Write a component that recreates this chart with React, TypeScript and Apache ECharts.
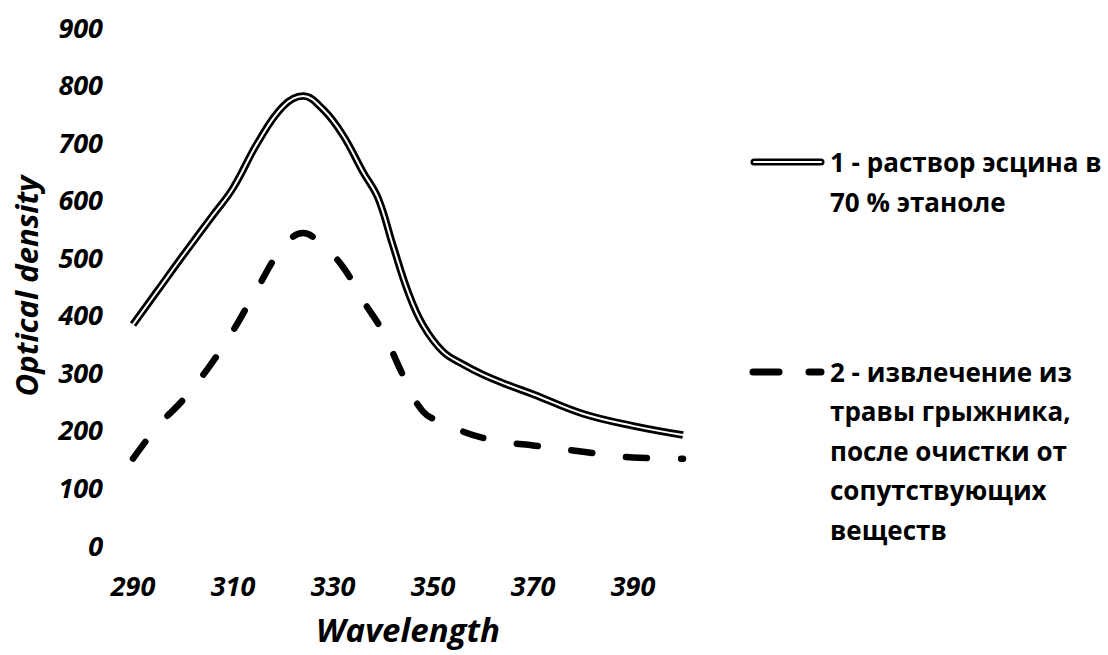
import React, { useEffect, useRef } from "react";
import * as echarts from "echarts";

// Series 1: раствор эсцина в 70 % этаноле
const wavelengths1 = [290, 295, 300, 306, 310, 315, 320, 324, 328, 332, 336, 339, 342, 345, 348, 352, 356, 360, 365, 370, 380, 390, 400];
const values1 = [383, 443, 503, 573, 620, 700, 762, 780, 757, 712, 648, 603, 520, 440, 382, 336, 314, 296, 278, 262, 228, 207, 191];

// Series 2: извлечение из травы грыжника
const wavelengths2 = [290, 295, 300, 305, 310, 315, 320, 324, 328, 332, 336, 340, 344, 348, 352, 356, 360, 365, 370, 380, 390, 400];
const values2 = [150, 207, 252, 307, 372, 448, 518, 542, 520, 483, 425, 370, 295, 232, 212, 197, 186, 178, 173, 162, 152, 150];

const xTickLabels = [290, 310, 330, 350, 370, 390];
const legendText1 = "1 - раствор эсцина в\n70 % этаноле";
const legendText2 = "2 - извлечение из\nтравы грыжника,\nпосле очистки от\nсопутствующих\nвеществ";
const xName = "Wavelength";
const yName = "Optical density";

const FONT = "'Open Sans', 'Noto Sans', sans-serif";

export default function App() {
  const ref = useRef<HTMLDivElement>(null);
  useEffect(() => {
    if (!ref.current) return;
    const chart = echarts.init(ref.current, null, { renderer: "svg" });
    const d1 = wavelengths1.map((w, i) => [w, values1[i]]);
    const d2 = wavelengths2.map((w, i) => [w, values2[i]]);
    chart.setOption({
      animation: false,
      backgroundColor: "#ffffff",
      grid: { left: 133, top: 27, width: 550, height: 518 },
      xAxis: {
        type: "value",
        min: 290,
        max: 400,
        interval: 10,
        axisLine: { show: false },
        axisTick: { show: false },
        splitLine: { show: false },
        axisLabel: {
          margin: 27,
          color: "#000",
          fontFamily: FONT,
          fontSize: 27,
          fontWeight: "bold",
          fontStyle: "italic",
          formatter: (v: number) => (xTickLabels.includes(v) ? String(v) : ""),
        },
        name: xName,
        nameLocation: "middle",
        nameGap: 68,
        nameTextStyle: {
          color: "#000",
          fontFamily: FONT,
          fontSize: 33,
          fontWeight: "bold",
          fontStyle: "italic",
        },
      },
      yAxis: {
        type: "value",
        min: 0,
        max: 900,
        interval: 100,
        axisLine: { show: false },
        axisTick: { show: false },
        splitLine: { show: false },
        axisLabel: {
          margin: 30,
          color: "#000",
          fontFamily: FONT,
          fontSize: 27,
          fontWeight: "bold",
          fontStyle: "italic",
        },
        name: yName,
        nameLocation: "middle",
        nameGap: 92,
        nameTextStyle: {
          color: "#000",
          fontFamily: FONT,
          fontSize: 31,
          fontWeight: "bold",
          fontStyle: "italic",
        },
      },
      series: [
        {
          type: "line",
          data: d2,
          smooth: 0.4,
          showSymbol: false,
          lineStyle: { color: "#000", width: 6.5, type: [21, 34], cap: "round" },
        },
        {
          type: "line",
          data: d1,
          smooth: 0.4,
          showSymbol: false,
          lineStyle: { color: "#000", width: 7.5, cap: "butt" },
        },
        {
          type: "line",
          data: d1,
          smooth: 0.4,
          showSymbol: false,
          lineStyle: { color: "#fff", width: 2, cap: "butt" },
        },
      ],
      graphic: [
        { type: "line", shape: { x1: 754, y1: 162, x2: 821, y2: 162 }, style: { stroke: "#000", lineWidth: 7, lineCap: "round" } },
        { type: "line", shape: { x1: 754, y1: 162, x2: 821, y2: 162 }, style: { stroke: "#fff", lineWidth: 2, lineCap: "round" } },
        {
          type: "text",
          left: 830,
          top: 142,
          style: { text: legendText1, fill: "#000", font: `bold 26px ${FONT}`, lineHeight: 40 },
        },
        { type: "line", shape: { x1: 753, y1: 372, x2: 779, y2: 372 }, style: { stroke: "#000", lineWidth: 7, lineCap: "round" } },
        { type: "line", shape: { x1: 809, y1: 372, x2: 821, y2: 372 }, style: { stroke: "#000", lineWidth: 7, lineCap: "round" } },
        {
          type: "text",
          left: 830,
          top: 352,
          style: { text: legendText2, fill: "#000", font: `bold 26px ${FONT}`, lineHeight: 39.5 },
        },
      ],
    });
    return () => chart.dispose();
  }, []);
  return (
    <div
      ref={ref}
      style={{ position: "fixed", left: 0, top: 0, width: 1108, height: 655, background: "#fff" }}
    />
  );
}
